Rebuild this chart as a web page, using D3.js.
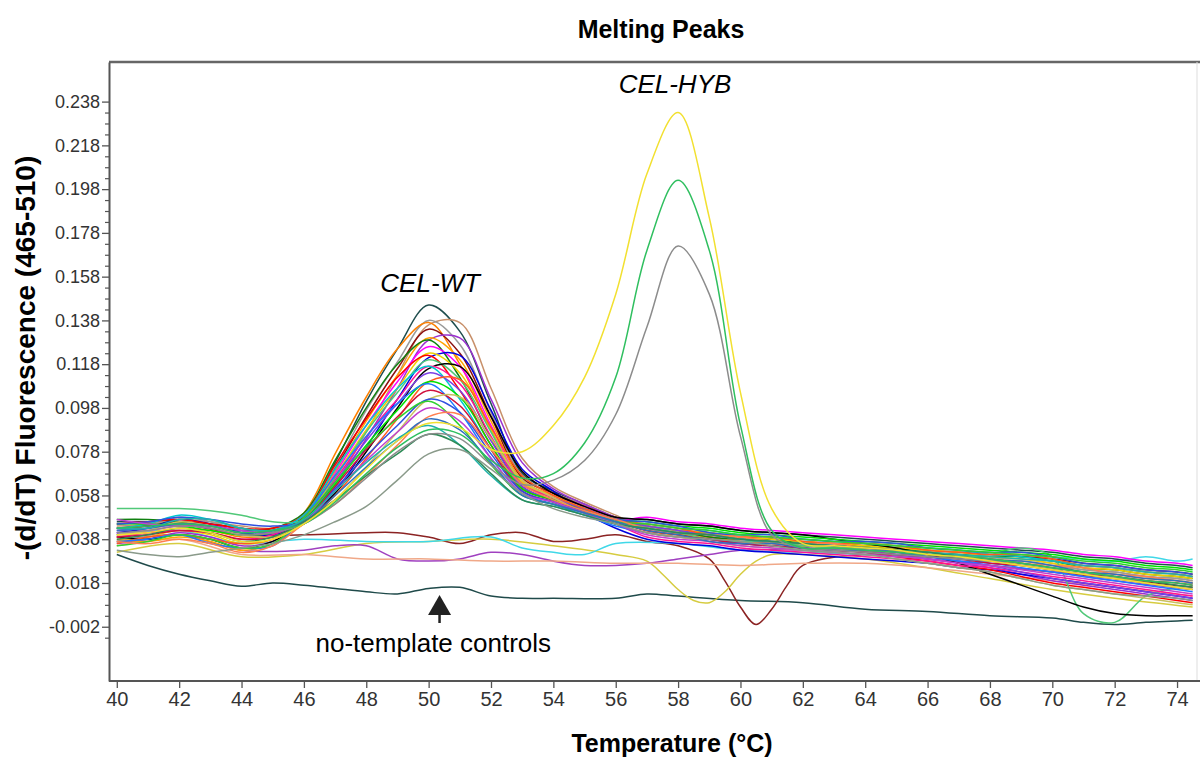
<!DOCTYPE html>
<html lang="en">
<head>
<meta charset="UTF-8">
<title>Melting Peaks</title>
<script src="https://cdn.jsdelivr.net/npm/d3@7"></script>
<style>
	body {
		margin: 0;
		background-color: #ffffff;
	}
	svg {
		display: block;
		font-family: "Liberation Sans", Arial, sans-serif;
	}
	.axis path, .axis line {
		stroke: #555;
	}
	.axis text {
		fill: #333;
	}
	.curve {
		fill: none;
		stroke-width: 1.5px;
		stroke-linejoin: round;
	}
</style>
</head>
<body>
<script>
	// temperature grid shared by the sample curves (deg C)
	var temps = [40, 41, 42, 43, 44, 45, 46, 47, 48, 49, 50, 51, 52, 53, 54, 55, 56, 57, 58, 59,
		60, 61, 62, 63, 64, 65, 66, 67, 68, 69, 70, 71, 72, 73, 74, 74.5];

	// CEL-WT samples, -(d/dT) fluorescence
	var wtSeries = [
		[0.046,0.046,0.045,0.043,0.041,0.042, 0.048,0.073,0.101,0.125,0.145,0.133,0.100,0.068,0.060,0.054,0.048, 0.047,0.045,0.044,0.042,0.041,0.040,0.039,0.038,0.037,0.036,0.035,0.034,0.033,0.032,0.030,0.029,0.027,0.026,0.025],
		[0.044,0.045,0.047,0.046,0.044,0.043, 0.046,0.063,0.087,0.113,0.136,0.137,0.107,0.075,0.062,0.055,0.049, 0.043,0.041,0.040,0.038,0.037,0.036,0.035,0.034,0.033,0.032,0.031,0.029,0.028,0.026,0.024,0.023,0.021,0.020,0.019],
		[0.042,0.044,0.048,0.046,0.042,0.041, 0.048,0.071,0.097,0.119,0.138,0.127,0.096,0.067,0.059,0.054,0.048, 0.043,0.041,0.038,0.037,0.037,0.035,0.034,0.034,0.033,0.031,0.030,0.029,0.029,0.027,0.024,0.023,0.021,0.020,0.019],
		[0.040,0.041,0.043,0.042,0.039,0.040, 0.050,0.077,0.103,0.125,0.137,0.118,0.088,0.064,0.057,0.052,0.047, 0.042,0.040,0.039,0.037,0.036,0.035,0.034,0.033,0.032,0.031,0.029,0.028,0.026,0.024,0.022,0.020,0.018,0.016,0.015],
		[0.043,0.044,0.046,0.045,0.043,0.042, 0.048,0.070,0.094,0.116,0.134,0.123,0.094,0.066,0.059,0.053,0.048, 0.044,0.042,0.041,0.039,0.038,0.037,0.036,0.035,0.034,0.033,0.032,0.031,0.030,0.029,0.027,0.026,0.024,0.023,0.022],
		[0.036,0.038,0.041,0.039,0.035,0.037, 0.046,0.062,0.084,0.107,0.129,0.130,0.102,0.073,0.061,0.054,0.048, 0.043,0.041,0.039,0.037,0.036,0.035,0.034,0.033,0.031,0.029,0.027,0.025,0.022,0.019,0.017,0.015,0.013,0.011,0.010],
		[0.038,0.037,0.039,0.037,0.033,0.036, 0.047,0.069,0.092,0.113,0.130,0.120,0.092,0.065,0.058,0.053,0.047, 0.042,0.040,0.039,0.037,0.036,0.035,0.034,0.033,0.032,0.031,0.030,0.028,0.027,0.025,0.023,0.022,0.020,0.019,0.018],
		[0.047,0.047,0.046,0.044,0.042,0.043, 0.050,0.074,0.098,0.118,0.129,0.112,0.084,0.062,0.056,0.052,0.047, 0.044,0.042,0.039,0.038,0.038,0.036,0.035,0.035,0.034,0.032,0.031,0.030,0.030,0.028,0.025,0.024,0.022,0.021,0.020],
		[0.041,0.042,0.044,0.043,0.040,0.041, 0.047,0.068,0.090,0.110,0.126,0.117,0.090,0.064,0.058,0.053,0.047, 0.048,0.046,0.045,0.043,0.042,0.041,0.040,0.039,0.038,0.037,0.036,0.035,0.034,0.033,0.031,0.030,0.028,0.027,0.026],
		[0.041,0.043,0.047,0.045,0.041,0.040, 0.046,0.060,0.080,0.102,0.121,0.122,0.097,0.070,0.060,0.050,0.043, 0.038,0.036,0.035,0.033,0.032,0.031,0.030,0.029,0.028,0.027,0.025,0.024,0.022,0.020,0.018,0.016,0.014,0.012,0.011],
		[0.037,0.039,0.042,0.040,0.036,0.038, 0.047,0.067,0.088,0.107,0.123,0.114,0.088,0.064,0.058,0.052,0.047, 0.044,0.042,0.041,0.039,0.038,0.037,0.036,0.035,0.034,0.033,0.032,0.030,0.029,0.027,0.025,0.024,0.022,0.021,0.020],
		[0.045,0.046,0.047,0.045,0.043,0.043, 0.049,0.072,0.093,0.112,0.122,0.106,0.081,0.061,0.056,0.051,0.046, 0.042,0.040,0.038,0.036,0.035,0.034,0.033,0.032,0.030,0.028,0.026,0.024,0.021,0.018,0.016,0.014,0.012,0.010,0.009],
		[0.052,0.052,0.052,0.051,0.049,0.046, 0.047,0.066,0.087,0.105,0.120,0.111,0.087,0.063,0.057,0.052,0.047, 0.043,0.041,0.038,0.037,0.037,0.035,0.034,0.034,0.033,0.031,0.030,0.031,0.034,0.030,0.004,0.000,0.012,0.016,0.018],
		[0.039,0.038,0.040,0.038,0.034,0.037, 0.046,0.059,0.078,0.098,0.116,0.117,0.094,0.069,0.059,0.053,0.048, 0.047,0.045,0.044,0.042,0.041,0.040,0.038,0.036,0.034,0.031,0.027,0.022,0.017,0.012,0.007,0.004,0.003,0.003,0.003],
		[0.039,0.041,0.042,0.041,0.038,0.040, 0.047,0.065,0.085,0.102,0.117,0.109,0.085,0.063,0.057,0.051,0.045, 0.039,0.037,0.036,0.034,0.033,0.032,0.031,0.030,0.029,0.028,0.026,0.025,0.023,0.021,0.019,0.017,0.015,0.013,0.012],
		[0.043,0.045,0.049,0.047,0.043,0.042, 0.049,0.070,0.090,0.107,0.117,0.102,0.079,0.060,0.055,0.051,0.046, 0.045,0.043,0.042,0.040,0.039,0.038,0.037,0.036,0.035,0.034,0.033,0.031,0.030,0.028,0.026,0.025,0.023,0.022,0.021],
		[0.042,0.043,0.045,0.044,0.042,0.041, 0.047,0.064,0.083,0.100,0.114,0.106,0.083,0.062,0.056,0.052,0.047, 0.044,0.042,0.040,0.038,0.037,0.036,0.035,0.034,0.032,0.030,0.028,0.026,0.023,0.020,0.018,0.016,0.014,0.012,0.011],
		[0.036,0.039,0.040,0.038,0.036,0.038, 0.045,0.058,0.075,0.093,0.110,0.111,0.089,0.067,0.058,0.052,0.047, 0.045,0.043,0.040,0.039,0.039,0.037,0.036,0.036,0.035,0.033,0.032,0.031,0.031,0.029,0.026,0.025,0.023,0.022,0.021],
		[0.045,0.045,0.044,0.042,0.040,0.041, 0.047,0.063,0.081,0.097,0.110,0.103,0.081,0.061,0.056,0.051,0.047, 0.046,0.044,0.043,0.041,0.040,0.039,0.038,0.037,0.036,0.035,0.034,0.033,0.032,0.031,0.029,0.028,0.026,0.025,0.024],
		[0.037,0.038,0.040,0.036,0.034,0.035, 0.048,0.067,0.085,0.100,0.109,0.096,0.075,0.059,0.054,0.049,0.044, 0.041,0.039,0.038,0.036,0.035,0.034,0.033,0.032,0.031,0.030,0.028,0.027,0.025,0.023,0.021,0.019,0.017,0.015,0.014],
		[0.039,0.040,0.042,0.041,0.038,0.039, 0.046,0.062,0.079,0.094,0.106,0.099,0.079,0.060,0.055,0.050,0.045, 0.041,0.039,0.038,0.036,0.035,0.034,0.033,0.032,0.031,0.030,0.029,0.027,0.026,0.024,0.022,0.021,0.019,0.018,0.017],
		[0.040,0.042,0.046,0.044,0.040,0.039, 0.045,0.056,0.071,0.087,0.102,0.103,0.084,0.065,0.057,0.050,0.045, 0.041,0.039,0.037,0.035,0.034,0.033,0.032,0.031,0.029,0.027,0.025,0.023,0.020,0.017,0.015,0.013,0.011,0.009,0.008],
		[0.045,0.046,0.048,0.047,0.045,0.044, 0.046,0.061,0.076,0.090,0.102,0.096,0.077,0.060,0.055,0.051,0.047, 0.046,0.044,0.041,0.040,0.040,0.038,0.037,0.037,0.036,0.034,0.033,0.032,0.032,0.030,0.027,0.026,0.024,0.023,0.022],
		[0.035,0.037,0.040,0.038,0.034,0.036, 0.048,0.064,0.080,0.093,0.101,0.090,0.072,0.058,0.054,0.050,0.046, 0.045,0.043,0.042,0.040,0.039,0.038,0.037,0.036,0.035,0.034,0.033,0.032,0.031,0.030,0.028,0.027,0.025,0.024,0.023],
		[0.047,0.045,0.044,0.044,0.042,0.041, 0.046,0.060,0.074,0.087,0.098,0.092,0.075,0.059,0.055,0.050,0.045, 0.040,0.038,0.037,0.035,0.034,0.033,0.032,0.031,0.030,0.029,0.027,0.026,0.024,0.022,0.020,0.018,0.016,0.014,0.013],
		[0.037,0.036,0.038,0.036,0.032,0.035, 0.045,0.054,0.067,0.081,0.094,0.095,0.079,0.063,0.056,0.051,0.047, 0.043,0.041,0.040,0.039,0.037,0.036,0.036,0.034,0.033,0.031,0.030,0.029,0.027,0.026,0.025,0.022,0.021,0.019,0.018],
		[0.042,0.043,0.045,0.044,0.041,0.042, 0.046,0.058,0.071,0.083,0.093,0.088,0.073,0.058,0.054,0.050,0.046, 0.042,0.040,0.037,0.036,0.036,0.034,0.033,0.033,0.032,0.030,0.029,0.028,0.028,0.026,0.023,0.022,0.020,0.019,0.018],
		[0.043,0.043,0.047,0.047,0.043,0.042, 0.047,0.060,0.073,0.084,0.090,0.081,0.067,0.056,0.053,0.049,0.045, 0.043,0.041,0.040,0.038,0.037,0.036,0.035,0.034,0.033,0.032,0.031,0.030,0.029,0.028,0.026,0.025,0.023,0.022,0.021],
		[0.038,0.040,0.043,0.041,0.037,0.039, 0.046,0.056,0.067,0.077,0.086,0.081,0.068,0.056,0.053,0.049,0.045, 0.043,0.041,0.040,0.038,0.037,0.036,0.035,0.034,0.033,0.032,0.030,0.029,0.027,0.025,0.023,0.021,0.019,0.017,0.016],
		[0.033,0.031,0.030,0.032,0.034,0.036, 0.040,0.046,0.053,0.065,0.077,0.079,0.070,0.059,0.052,0.048,0.045, 0.041,0.039,0.038,0.037,0.035,0.033,0.032,0.031,0.029,0.027,0.025,0.023,0.020,0.017,0.015,0.013,0.012,0.011,0.010]
	];
	var wtColors = ["#1f4e4e", "#c8906a", "#9a9a9a", "#ff8000", "#8b1010", "#9b30d0", "#ffa500", "#108010",
		"#ff00ff", "#0000e0", "#f0d000", "#ff0000", "#50c878", "#000000", "#ff1493", "#00c8d0",
		"#7b3fe4", "#ff5a1e", "#00e000", "#1e78ff", "#d0103c", "#c8c060", "#3050e0", "#30d030",
		"#c040d0", "#ff7f50", "#3070c0", "#20b2aa", "#2e8b57", "#8a9a8a"];

	// CEL-HYB samples (same grid)
	var hybYellow = [0.040,0.041,0.043,0.041,0.037,0.038, 0.045,0.056,0.070,0.083,0.091,0.089,0.079,0.078,0.090,0.112,0.150, 0.205,0.233,0.185,0.105,0.052,0.036,0.035,0.034,0.033,0.031,0.030,0.028,0.026,0.024,0.022,0.020,0.018,0.016,0.015];
	var hybGreen = [0.043,0.044,0.045,0.044,0.041,0.042, 0.045,0.055,0.068,0.080,0.088,0.086,0.074,0.066,0.068,0.082,0.112, 0.170,0.202,0.170,0.090,0.042,0.034,0.034,0.033,0.032,0.031,0.030,0.029,0.027,0.025,0.023,0.021,0.019,0.018,0.017];
	var hybGrey = [0.041,0.042,0.044,0.043,0.040,0.041, 0.045,0.054,0.066,0.078,0.086,0.084,0.072,0.063,0.065,0.074,0.095, 0.135,0.172,0.150,0.085,0.040,0.034,0.033,0.032,0.031,0.030,0.029,0.028,0.026,0.024,0.022,0.020,0.018,0.016,0.015];
	var hybColors = ["#f2e030", "#2fbf5f", "#8c8c8c"];

	// flat traces (no-template controls and failed samples), each on its own grid
	var ntcTemps = [40, 41, 42, 43, 44, 45, 46, 47, 48, 49, 50, 51, 52, 53, 54, 56, 57, 58, 60, 62, 64, 66, 68, 70, 71, 72, 73, 74.5];
	var ntcValues = [0.031, 0.026, 0.022, 0.019, 0.0165, 0.018, 0.017, 0.0155, 0.014, 0.013, 0.0155, 0.016, 0.012, 0.011, 0.011, 0.011, 0.013, 0.012, 0.010, 0.009, 0.006, 0.005, 0.003, 0.002, 0.000, -0.001, 0.000, 0.001];

	var brownTemps = [40, 42, 44, 46, 48, 49, 50, 51, 52, 53, 54, 55, 56, 57, 58, 59, 59.5, 60, 60.5, 61, 61.5, 62, 64, 66, 68, 70, 72, 74.5];
	var brownValues = [0.043, 0.045, 0.040, 0.040, 0.041, 0.041, 0.039, 0.036, 0.040, 0.041, 0.037, 0.038, 0.040, 0.037, 0.035, 0.029, 0.019, 0.007, -0.001, 0.006, 0.017, 0.026, 0.031, 0.029, 0.026, 0.023, 0.020, 0.016];

	var oliveTemps = [40, 42, 44, 46, 48, 50, 52, 54, 56, 57, 57.5, 58, 58.5, 59, 59.5, 60, 60.5, 61, 62, 64, 66, 68, 70, 72, 74.5];
	var oliveValues = [0.032, 0.036, 0.030, 0.031, 0.036, 0.037, 0.038, 0.035, 0.031, 0.028, 0.022, 0.015, 0.010, 0.009, 0.014, 0.022, 0.028, 0.031, 0.031, 0.029, 0.025, 0.020, 0.015, 0.011, 0.007];

	var cyanTemps = [40, 42, 44, 46, 48, 50, 52, 53, 54, 55, 56, 58, 60, 62, 64, 66, 68, 70, 72, 73, 74, 74.5];
	var cyanValues = [0.040, 0.042, 0.036, 0.038, 0.037, 0.037, 0.039, 0.034, 0.032, 0.031, 0.036, 0.036, 0.033, 0.032, 0.031, 0.030, 0.031, 0.030, 0.028, 0.030, 0.028, 0.029];

	var purpleTemps = [40, 42, 44, 46, 47, 48, 49, 50, 51, 52, 53, 54, 55, 56, 57, 58, 59, 60, 62, 64, 66, 68, 70, 72, 74.5];
	var purpleValues = [0.037, 0.040, 0.033, 0.033, 0.035, 0.035, 0.029, 0.028, 0.029, 0.032, 0.031, 0.028, 0.026, 0.026, 0.027, 0.029, 0.031, 0.033, 0.033, 0.031, 0.029, 0.026, 0.023, 0.019, 0.015];

	var salmonTemps = [40, 42, 44, 46, 48, 50, 52, 54, 56, 58, 60, 62, 64, 66, 68, 70, 72, 74.5];
	var salmonValues = [0.035, 0.038, 0.031, 0.031, 0.029, 0.029, 0.028, 0.028, 0.027, 0.027, 0.026, 0.027, 0.027, 0.025, 0.022, 0.019, 0.016, 0.012];

	var flatColors = ["#1f4a4a", "#8b2323", "#d6cc40", "#40d8e8", "#a040c0", "#f0a888"];

	// axis ticks
	var xTickValues = [40, 42, 44, 46, 48, 50, 52, 54, 56, 58, 60, 62, 64, 66, 68, 70, 72, 74];
	var yTickValues = [0.238, 0.218, 0.198, 0.178, 0.158, 0.138, 0.118, 0.098, 0.078, 0.058, 0.038, 0.018, -0.002];

	var width = 1200, height = 758;
	var plot = {left: 109, right: 1197, top: 62, bottom: 681};

	var svg = d3.select('body').append('svg')
		.attr('width', width)
		.attr('height', height);

	var x = d3.scaleLinear().domain([39.75, 74.64]).range([plot.left, plot.right]);
	var y = d3.scaleLinear().domain([-0.0268, 0.2561]).range([plot.bottom, plot.top]);

	svg.append('clipPath').attr('id', 'plotClip')
		.append('rect')
		.attr('x', plot.left + 1)
		.attr('y', plot.top + 1)
		.attr('width', plot.right - plot.left - 1)
		.attr('height', plot.bottom - plot.top - 2);

	var line = d3.line()
		.x(function (d) { return x(d[0]); })
		.y(function (d) { return y(d[1]); })
		.curve(d3.curveCatmullRom.alpha(0.5));

	var traces = [];
	var flats = [
		[ntcTemps, ntcValues], [brownTemps, brownValues], [oliveTemps, oliveValues],
		[cyanTemps, cyanValues], [purpleTemps, purpleValues], [salmonTemps, salmonValues]
	];
	flats.forEach(function (f, i) {
		traces.push({points: d3.zip(f[0], f[1]), color: flatColors[i]});
	});
	wtSeries.forEach(function (vals, i) {
		traces.push({points: d3.zip(temps, vals), color: wtColors[i]});
	});
	[hybGrey, hybGreen, hybYellow].forEach(function (vals, i) {
		traces.push({points: d3.zip(temps, vals), color: [hybColors[2], hybColors[1], hybColors[0]][i]});
	});

	svg.append('g')
		.attr('clip-path', 'url(#plotClip)')
		.selectAll('path')
		.data(traces)
		.enter()
		.append('path')
		.attr('class', 'curve')
		.attr('d', function (d) { return line(d.points); })
		.style('stroke', function (d) { return d.color; });

	// frame: top and right edges
	svg.append('line')
		.attr('x1', plot.left).attr('x2', width)
		.attr('y1', plot.top).attr('y2', plot.top)
		.style('stroke', '#666').style('stroke-width', 2.5);
	svg.append('line')
		.attr('x1', plot.right).attr('x2', plot.right)
		.attr('y1', plot.top).attr('y2', plot.bottom)
		.style('stroke', '#ddd').style('stroke-width', 1);

	// y axis, major and minor ticks
	var yMinor = yTickValues.flatMap(function (v) { return [v - 0.005, v - 0.010, v - 0.015]; })
		.filter(function (v) { return v > -0.008; });

	svg.append('g')
		.attr('class', 'axis')
		.attr('transform', 'translate(' + plot.left + ',0)')
		.call(d3.axisLeft(y).tickValues(yMinor).tickSize(4).tickSizeOuter(0).tickFormat(''))
		.call(function (g) { g.select('.domain').remove(); })
		.selectAll('line').style('stroke-width', 1.2);

	var yAxis = svg.append('g')
		.attr('class', 'axis')
		.attr('transform', 'translate(' + plot.left + ',0)')
		.call(d3.axisLeft(y)
			.tickValues(yTickValues)
			.tickSize(7)
			.tickSizeOuter(0)
			.tickPadding(2)
			.tickFormat(function (d) { return d.toFixed(3); }));
	yAxis.select('.domain').style('stroke-width', 2);
	yAxis.selectAll('line').style('stroke-width', 1.3);
	yAxis.selectAll('text').style('font-size', '18px');

	var xAxis = svg.append('g')
		.attr('class', 'axis')
		.attr('transform', 'translate(0,' + plot.bottom + ')')
		.call(d3.axisBottom(x)
			.tickValues(xTickValues)
			.tickSize(7)
			.tickSizeOuter(0)
			.tickPadding(4)
			.tickFormat(d3.format('d')));
	xAxis.select('.domain').attr('d', 'M' + plot.left + ',0H' + width).style('stroke-width', 2);
	xAxis.selectAll('line').style('stroke-width', 1.3);
	xAxis.selectAll('text').style('font-size', '20px');

	// titles
	svg.append('text')
		.attr('x', 661)
		.attr('y', 38)
		.style('text-anchor', 'middle')
		.style('font-weight', 'bold')
		.style('font-size', '25px')
		.text('Melting Peaks');

	svg.append('text')
		.attr('x', 672)
		.attr('y', 752)
		.style('text-anchor', 'middle')
		.style('font-weight', 'bold')
		.style('font-size', '25px')
		.text('Temperature (\u00B0C)');

	svg.append('text')
		.attr('transform', 'translate(35,358) rotate(-90)')
		.style('text-anchor', 'middle')
		.style('font-weight', 'bold')
		.style('font-size', '28px')
		.text('-(d/dT) Fluorescence (465-510)');

	// annotations, anchored in data units
	var notes = [
		{text: 'CEL-WT', temp: 50.05, value: 0.151, italic: true},
		{text: 'CEL-HYB', temp: 57.9, value: 0.242, italic: true},
		{text: 'no-template controls', temp: 50.15, value: -0.0136, italic: false}
	];
	svg.selectAll('.note')
		.data(notes)
		.enter()
		.append('text')
		.attr('class', 'note')
		.attr('x', function (d) { return x(d.temp); })
		.attr('y', function (d) { return y(d.value); })
		.style('text-anchor', 'middle')
		.style('font-size', '26px')
		.style('font-style', function (d) { return d.italic ? 'italic' : 'normal'; })
		.text(function (d) { return d.text; });

	var arrow = {temp: 50.35, tip: 0.0125, base: 0.0034, tail: -0.0003};
	var ax = x(arrow.temp);
	svg.append('path')
		.attr('d', 'M' + ax + ',' + y(arrow.tip) + 'L' + (ax + 11.5) + ',' + y(arrow.base) + 'L' + (ax - 11.5) + ',' + y(arrow.base) + 'Z')
		.style('fill', '#222');
	svg.append('line')
		.attr('x1', ax).attr('x2', ax)
		.attr('y1', y(arrow.base)).attr('y2', y(arrow.tail))
		.style('stroke', '#222').style('stroke-width', 2.5);
</script>
</body>
</html>
